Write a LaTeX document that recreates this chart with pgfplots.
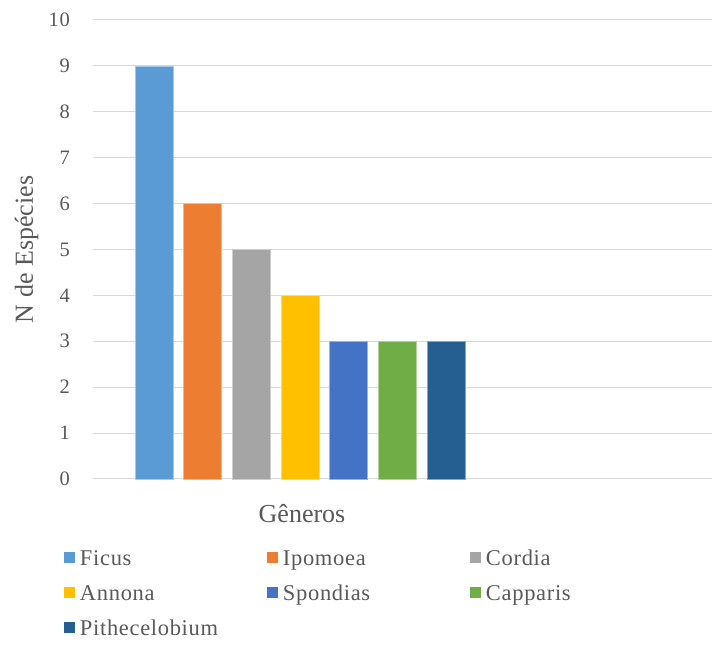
\documentclass[border=0pt]{standalone}
\usepackage{fontspec}
\setmainfont{Liberation Serif}
\newfontfamily\spacedfont[LetterSpace=3]{Liberation Serif}
\usepackage{pgfplots}
\pgfplotsset{compat=1.18}
\definecolor{cFicus}{HTML}{5B9BD5}
\definecolor{cIpo}{HTML}{ED7D31}
\definecolor{cCor}{HTML}{A5A5A5}
\definecolor{cAnn}{HTML}{FFC000}
\definecolor{cSpo}{HTML}{4472C4}
\definecolor{cCap}{HTML}{70AD47}
\definecolor{cPit}{HTML}{255E91}
\definecolor{gridc}{HTML}{D9D9D9}
\definecolor{txt}{HTML}{595959}
\begin{document}
\begin{tikzpicture}
\begin{axis}[
  name=ax,
  scale only axis,
  width=619pt, height=459pt,
  xmin=93, xmax=712, ymin=0, ymax=10,
  ytick={0,1,...,10},
  xtick=\empty,
  axis line style={draw=none},
  major tick length=0pt,
  tick style={draw=none},
  ymajorgrids,
  grid style={draw=gridc, line width=1pt},
  /pgf/number format/assume math mode=true,
  yticklabel style={font=\spacedfont\fontsize{20.5}{24}\selectfont, text=txt, anchor=east, inner sep=0pt, xshift=-23pt},
  ybar, bar shift=0pt, bar width=38pt,
  legend image code/.code={\draw[#1, draw=none] (0pt,-5.5pt) rectangle (11pt,5.5pt);},
  legend cell align=left,
  legend columns=3,
  legend style={
    at={(rel axis cs:0,0)}, anchor=north west, xshift=-29pt, yshift=-60.5pt,
    draw=none, fill=none, inner sep=0pt, outer sep=0pt, row sep=0pt,
    font=\spacedfont\fontsize{22.5}{26}\selectfont, text=txt,
    nodes={text width=187pt, align=left, inner xsep=0pt, inner ysep=7pt, text height=19pt, text depth=2pt},
    /tikz/every odd column/.append style={column sep=5pt},
    /tikz/every even column/.append style={column sep=0pt},
  },
  clip=false,
]
\addplot[fill=cFicus, draw=cFicus!55!white, line width=0.7pt] coordinates {(153.9,9)};
\addlegendentry{Ficus}
\addplot[fill=cIpo, draw=cIpo!55!white, line width=0.7pt] coordinates {(202.3,6)};
\addlegendentry{Ipomoea}
\addplot[fill=cCor, draw=cCor!55!white, line width=0.7pt] coordinates {(251.3,5)};
\addlegendentry{Cordia}
\addplot[fill=cAnn, draw=cAnn!55!white, line width=0.7pt] coordinates {(300.0,4)};
\addlegendentry{Annona}
\addplot[fill=cSpo, draw=cSpo!55!white, line width=0.7pt] coordinates {(348.7,3)};
\addlegendentry{Spondias}
\addplot[fill=cCap, draw=cCap!55!white, line width=0.7pt] coordinates {(397.3,3)};
\addlegendentry{Capparis}
\addplot[fill=cPit, draw=cPit!55!white, line width=0.7pt] coordinates {(446.2,3)};
\addlegendentry{Pithecelobium}
\end{axis}
\node[rotate=90, anchor=base, text=txt, font=\fontsize{26}{30}\selectfont] at ([xshift=-60pt]ax.west) {N de Espécies};
\node[anchor=base, text=txt, font=\fontsize{26}{30}\selectfont] at ([xshift=209pt,yshift=-44pt]ax.south west) {Gêneros};
\path ([xshift=-93pt,yshift=-161pt]ax.south west) rectangle ([xshift=3pt,yshift=20pt]ax.north east);
\end{tikzpicture}
\end{document}
